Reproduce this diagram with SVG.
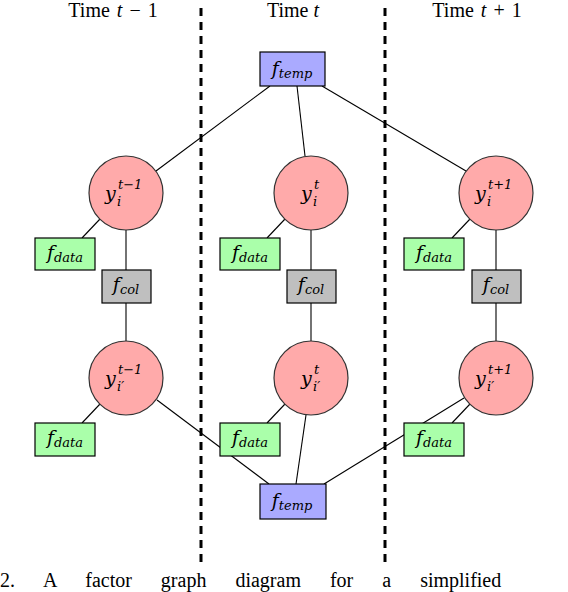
<svg xmlns="http://www.w3.org/2000/svg" width="568" height="592" viewBox="0 0 568 592">
<style>
text{font-family:"DejaVu Serif","Liberation Serif",serif;fill:#000}
.r{font-family:"Liberation Serif","DejaVu Serif",serif}
.m{font-style:italic;font-family:"DejaVu Serif","Liberation Serif",serif}
.lab{font-size:19px}
.s{font-size:13px}
.c{fill:#ffaaaa;stroke:#333;stroke-width:1.2}
.d{fill:#aaffaa;stroke:#000;stroke-width:1.2}
.col{fill:#bfbfbf;stroke:#000;stroke-width:1.2}
.t{fill:#aaaaff;stroke:#000;stroke-width:1.2}
.e{stroke:#000;stroke-width:1.1;fill:none}
.sep{stroke:#000;stroke-width:3;stroke-dasharray:8 6}
</style>
<g id="separators">
<line class="sep" x1="201" y1="8" x2="201" y2="562"/>
<line class="sep" x1="385" y1="8" x2="385" y2="562"/>
</g>
<g id="titles">
<text class="r" x="113" y="17" text-anchor="middle" font-size="20" word-spacing="2">Time <tspan font-style="italic">t</tspan> − 1</text>
<text class="r" x="293" y="17" text-anchor="middle" font-size="20">Time <tspan font-style="italic">t</tspan></text>
<text class="r" x="477" y="17" text-anchor="middle" font-size="20" word-spacing="2">Time <tspan font-style="italic">t</tspan> + 1</text>
</g>
<g id="connectors">
<line class="e" x1="270" y1="86" x2="156" y2="171"/>
<line class="e" x1="297" y1="86" x2="305" y2="156"/>
<line class="e" x1="322" y1="86" x2="466" y2="171"/>
<line class="e" x1="100" y1="219" x2="82" y2="238"/>
<line class="e" x1="285" y1="219" x2="267" y2="238"/>
<line class="e" x1="470" y1="219" x2="452" y2="238"/>
<line class="e" x1="126" y1="230" x2="126" y2="270"/>
<line class="e" x1="311" y1="230" x2="311" y2="270"/>
<line class="e" x1="496" y1="230" x2="496" y2="270"/>
<line class="e" x1="126" y1="303" x2="126" y2="341"/>
<line class="e" x1="311" y1="303" x2="311" y2="341"/>
<line class="e" x1="496" y1="303" x2="496" y2="341"/>
<line class="e" x1="100" y1="404" x2="82" y2="423"/>
<line class="e" x1="285" y1="404" x2="267" y2="423"/>
<line class="e" x1="470" y1="404" x2="452" y2="423"/>
<line class="e" x1="157" y1="400" x2="269" y2="484"/>
<line class="e" x1="306" y1="415" x2="296" y2="484"/>
<line class="e" x1="324" y1="484" x2="464" y2="398"/>
</g>
<g id="ftemp_top">
<rect class="t" x="260" y="52" width="65" height="34"/>
<text class="lab" x="292" y="75" text-anchor="middle"><tspan class="m">f</tspan><tspan class="m s" dy="3">temp</tspan></text>
</g>
<g id="y_i_tm1">
<circle class="c" cx="126" cy="193" r="37"/>
<text class="m lab" x="105" y="200">y</text>
<text class="m s" x="118" y="189">t−1</text>
<text class="m s" x="117" y="206">i</text>
</g>
<g id="y_i_t">
<circle class="c" cx="311" cy="193" r="37"/>
<text class="m lab" x="301" y="200">y</text>
<text class="m s" x="314" y="189">t</text>
<text class="m s" x="313" y="206">i</text>
</g>
<g id="y_i_tp1">
<circle class="c" cx="496" cy="193" r="37"/>
<text class="m lab" x="475" y="200">y</text>
<text class="m s" x="488" y="189">t+1</text>
<text class="m s" x="487" y="206">i</text>
</g>
<g id="fdata_1">
<rect class="d" x="35" y="238" width="60" height="32"/>
<text class="lab" x="65" y="259" text-anchor="middle"><tspan class="m">f</tspan><tspan class="m s" dy="3">data</tspan></text>
</g>
<g id="fdata_2">
<rect class="d" x="220" y="238" width="60" height="32"/>
<text class="lab" x="250" y="259" text-anchor="middle"><tspan class="m">f</tspan><tspan class="m s" dy="3">data</tspan></text>
</g>
<g id="fdata_3">
<rect class="d" x="404" y="238" width="60" height="32"/>
<text class="lab" x="434" y="259" text-anchor="middle"><tspan class="m">f</tspan><tspan class="m s" dy="3">data</tspan></text>
</g>
<g id="fcol_1">
<rect class="col" x="102" y="270" width="49" height="33"/>
<text class="lab" x="126" y="291" text-anchor="middle"><tspan class="m">f</tspan><tspan class="m s" dy="3">col</tspan></text>
</g>
<g id="fcol_2">
<rect class="col" x="287" y="270" width="49" height="33"/>
<text class="lab" x="311" y="291" text-anchor="middle"><tspan class="m">f</tspan><tspan class="m s" dy="3">col</tspan></text>
</g>
<g id="fcol_3">
<rect class="col" x="472" y="270" width="49" height="33"/>
<text class="lab" x="496" y="291" text-anchor="middle"><tspan class="m">f</tspan><tspan class="m s" dy="3">col</tspan></text>
</g>
<g id="y_ip_tm1">
<circle class="c" cx="126" cy="378" r="37"/>
<text class="m lab" x="105" y="385">y</text>
<text class="m s" x="118" y="374">t−1</text>
<text class="m s" x="117" y="391">i′</text>
</g>
<g id="y_ip_t">
<circle class="c" cx="311" cy="378" r="37"/>
<text class="m lab" x="301" y="385">y</text>
<text class="m s" x="314" y="374">t</text>
<text class="m s" x="313" y="391">i′</text>
</g>
<g id="y_ip_tp1">
<circle class="c" cx="496" cy="378" r="37"/>
<text class="m lab" x="475" y="385">y</text>
<text class="m s" x="488" y="374">t+1</text>
<text class="m s" x="487" y="391">i′</text>
</g>
<g id="fdata_4">
<rect class="d" x="35" y="423" width="60" height="33"/>
<text class="lab" x="65" y="444" text-anchor="middle"><tspan class="m">f</tspan><tspan class="m s" dy="3">data</tspan></text>
</g>
<g id="fdata_5">
<rect class="d" x="220" y="423" width="60" height="33"/>
<text class="lab" x="250" y="444" text-anchor="middle"><tspan class="m">f</tspan><tspan class="m s" dy="3">data</tspan></text>
</g>
<g id="fdata_6">
<rect class="d" x="404" y="423" width="60" height="33"/>
<text class="lab" x="434" y="444" text-anchor="middle"><tspan class="m">f</tspan><tspan class="m s" dy="3">data</tspan></text>
</g>
<g id="ftemp_bottom">
<rect class="t" x="260" y="484" width="66" height="35"/>
<text class="lab" x="292" y="507" text-anchor="middle"><tspan class="m">f</tspan><tspan class="m s" dy="3">temp</tspan></text>
</g>
<text class="r" x="0" y="587" font-size="20" word-spacing="24">2. A factor graph diagram for a simplified</text>
</svg>
